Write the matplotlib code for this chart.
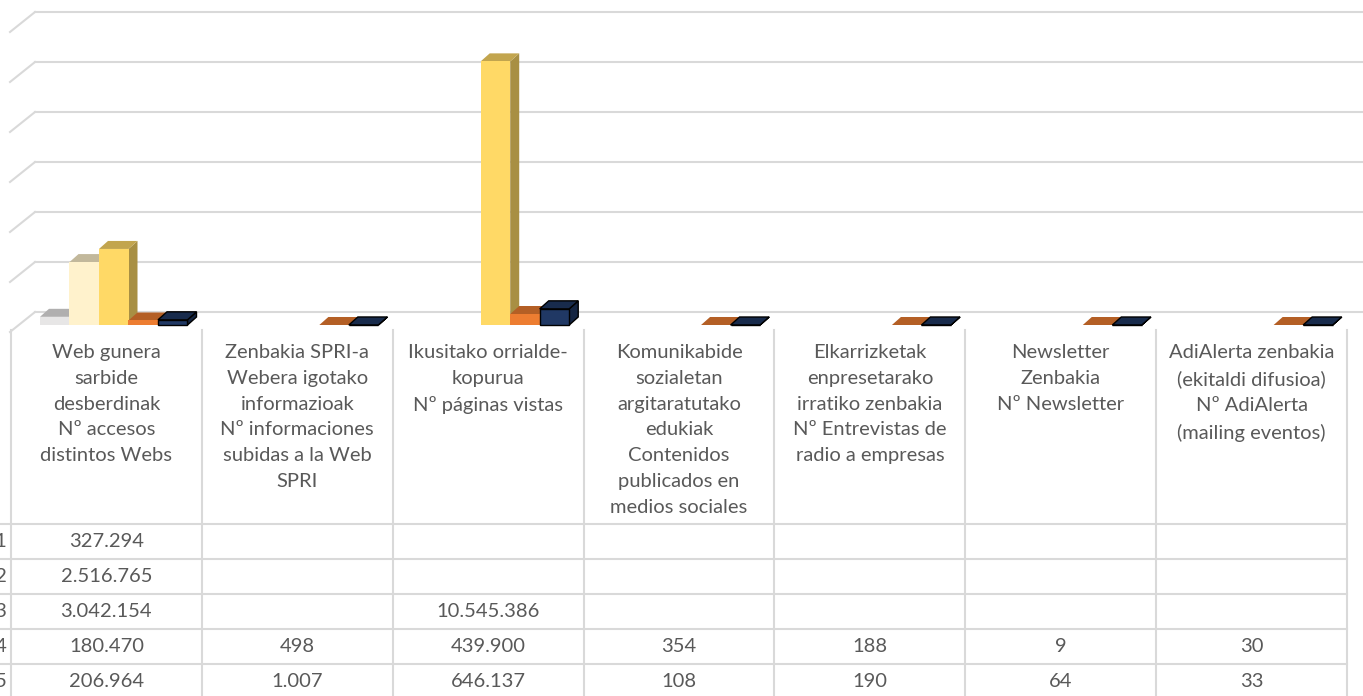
import numpy as np
import matplotlib.pyplot as plt
from matplotlib.patches import Polygon
from matplotlib.colors import to_rgb

plt.rcParams['font.family'] = ['Lato', 'DejaVu Sans']

categorias = ["Web gunera\nsarbide\ndesberdinak\nNº accesos\ndistintos Webs",
              "Zenbakia SPRI-a\nWebera igotako\ninformazioak\nNº informaciones\nsubidas a la Web\nSPRI",
              "Ikusitako orrialde-\nkopurua\nNº páginas vistas",
              "Komunikabide\nsozialetan\nargitaratutako\nedukiak\nContenidos\npublicados en\nmedios sociales",
              "Elkarrizketak\nenpresetarako\nirratiko zenbakia\nNº Entrevistas de\nradio a empresas",
              "Newsletter\nZenbakia\nNº Newsletter",
              "AdiAlerta zenbakia\n(ekitaldi difusioa)\nNº AdiAlerta\n(mailing eventos)"]
anios = ["2011", "2012", "2013", "2014", "2015"]
v2011 = [327294, None, None, None, None, None, None]
v2012 = [2516765, None, None, None, None, None, None]
v2013 = [3042154, None, 10545386, None, None, None, None]
v2014 = [180470, 498, 439900, 354, 188, 9, 30]
v2015 = [206964, 1007, 646137, 108, 190, 64, 33]
series = [v2011, v2012, v2013, v2014, v2015]
colores = ["#E7E6E6", "#FFF2CC", "#FFD966", "#ED7D31", "#203864"]

W, H = 1363, 696
fig = plt.figure(figsize=(W / 100, H / 100), dpi=100)

# Eje principal (plano frontal de las barras)
x0, x1 = 11, 1347
base, top = 325, 25
ax = fig.add_axes([x0 / W, (H - base) / H, (x1 - x0) / W, (base - top) / H])
ymax = 12e6
ax.set_xlim(0, 7)
ax.set_ylim(0, ymax)
ax.axis('off')

pxx = (x1 - x0) / 7.0        # pixeles por categoria
pxy = (base - top) / ymax    # pixeles por unidad

# Pared del fondo: lineas de cuadricula y diagonales
back_dy = 13 / pxy
for k in range(7):
    yb = k * 2e6 + back_dy
    ax.plot([24 / pxx, (W - x0) / pxx], [yb, yb], color="#D9D9D9", lw=1.5,
            clip_on=False, zorder=1)
    ax.plot([-1 / pxx, 24 / pxx], [yb - 20 / pxy, yb], color="#D9D9D9", lw=1.5,
            clip_on=False, zorder=1)

# Barras 3D
bw = 29.5 / pxx
off = 29 / pxx
ddx = 9 / pxx
ddy = 8 / pxy

def oscuro(c, f):
    r, g, b = to_rgb(c)
    return (r * f, g * f, b * f)

for i in range(7):
    for s, vals in enumerate(series):
        v = vals[i]
        if v is None:
            continue
        c = colores[s]
        ec = "black" if s == 4 else "none"
        xl = i + off + s * bw
        xr = xl + bw
        side = Polygon([(xr, 0), (xr + ddx, ddy), (xr + ddx, v + ddy), (xr, v)],
                       closed=True, facecolor=oscuro(c, 0.66), edgecolor=ec, lw=1,
                       clip_on=False, zorder=3)
        tapa = Polygon([(xl, v), (xl + ddx, v + ddy), (xr + ddx, v + ddy), (xr, v)],
                       closed=True, facecolor=oscuro(c, 0.76), edgecolor=ec, lw=1,
                       clip_on=False, zorder=3)
        ax.add_patch(side)
        ax.add_patch(tapa)
        ax.bar(xl, v, width=bw, align='edge', color=c, edgecolor=ec, lw=1,
               clip_on=False, zorder=3)

# Tabla de datos
axt = fig.add_axes([0, 0, 1, 1])
axt.set_xlim(0, W)
axt.set_ylim(H, 0)
axt.axis('off')
axt.patch.set_alpha(0)

cols = np.linspace(x0, x1, 8)
fila0 = 524
alto = 35
gris = "#D9D9D9"
texto = "#595959"
fs = 14.5

for xc in cols:
    axt.plot([xc, xc], [330, H], color=gris, lw=1.5)
for r in range(5):
    yl = fila0 + r * alto
    axt.plot([0, x1], [yl, yl], color=gris, lw=1.5)

for i, cat in enumerate(categorias):
    axt.text((cols[i] + cols[i + 1]) / 2, 344, cat, ha='center', va='top',
             fontsize=fs, color=texto, linespacing=1.63)

def fmt(v):
    return f"{v:,}".replace(",", ".")

for s, vals in enumerate(series):
    yc = fila0 + s * alto + alto / 2
    axt.text(7, yc, anios[s], ha='right', va='center', fontsize=fs, color=texto)
    for i, v in enumerate(vals):
        if v is None:
            continue
        axt.text((cols[i] + cols[i + 1]) / 2, yc, fmt(v), ha='center', va='center',
                 fontsize=fs, color=texto)

fig.savefig("out.png", dpi=100, facecolor="white")
